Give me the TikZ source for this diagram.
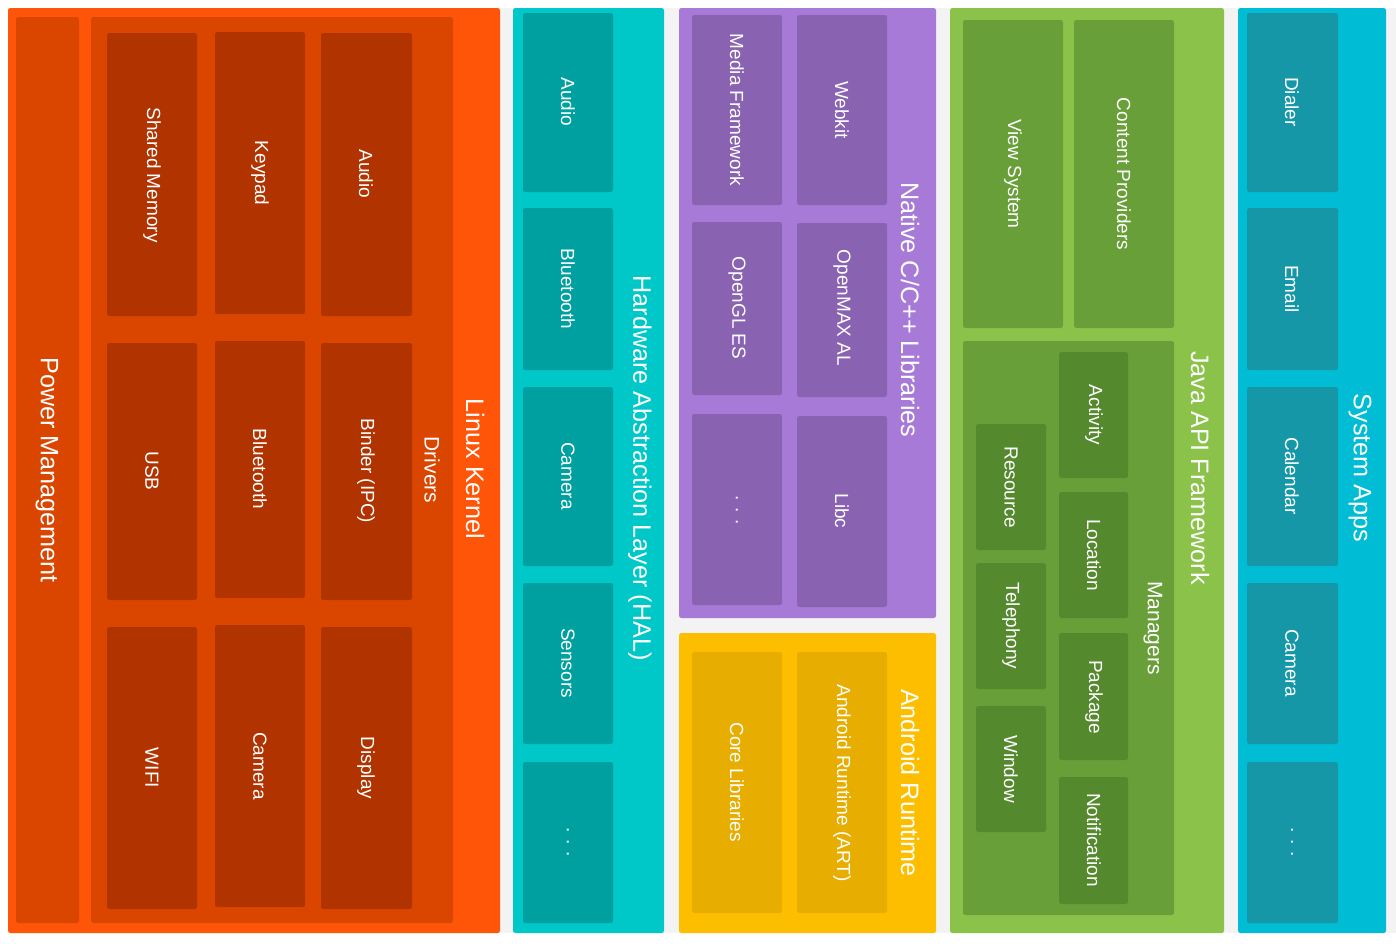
\documentclass[tikz,border=0pt]{standalone}
\usepackage{fontspec}
\setmainfont{Liberation Sans}
\usepackage{tikz}
\usetikzlibrary{positioning}
\definecolor{gapgray}{HTML}{F3F3F3}
\definecolor{kernelbg}{HTML}{FF5509}
\definecolor{kernelmid}{HTML}{DA4600}
\definecolor{kernelitem}{HTML}{B03300}
\definecolor{halbg}{HTML}{00C8C8}
\definecolor{halitem}{HTML}{00A0A0}
\definecolor{nativebg}{HTML}{A67AD6}
\definecolor{nativeitem}{HTML}{8962B2}
\definecolor{artbg}{HTML}{FDBE00}
\definecolor{artitem}{HTML}{E7AD00}
\definecolor{javabg}{HTML}{8BC34A}
\definecolor{javaitem}{HTML}{689F38}
\definecolor{mgritem}{HTML}{55892E}
\definecolor{appsbg}{HTML}{00BCD4}
\definecolor{appsitem}{HTML}{1697A8}
\tikzset{
  box/.style={rounded corners=1.2pt},
  lbl/.style={text=white, rotate=-90, inner sep=0pt, font=\fontsize{9.5}{11}\selectfont},
  sublbl/.style={lbl, font=\fontsize{10.5}{12}\selectfont},
  titlelbl/.style={lbl, font=\fontsize{12.6}{15}\selectfont}
}

\begin{document}
\begin{tikzpicture}[x=0.5pt,y=-0.5pt]
\useasboundingbox (0,0) rectangle (1396,943);
\fill[white] (0,0) rectangle (1396,943);
\fill[gapgray] (8,8) rectangle (1396,933);
% Linux Kernel
\fill[box,kernelbg] (8,8) rectangle (500,933);
\fill[box,kernelmid] (16,17) rectangle (79,923);
\fill[box,kernelmid] (91,17) rectangle (453,923);
\fill[box,kernelitem] (107,33) rectangle (197,316);
\fill[box,kernelitem] (215,32) rectangle (305,314);
\fill[box,kernelitem] (321,33) rectangle (412,316);
\fill[box,kernelitem] (107,343) rectangle (197,600);
\fill[box,kernelitem] (215,341) rectangle (305,598);
\fill[box,kernelitem] (321,343) rectangle (412,600);
\fill[box,kernelitem] (107,627) rectangle (197,909);
\fill[box,kernelitem] (215,625) rectangle (305,907);
\fill[box,kernelitem] (321,627) rectangle (412,909);
\node[titlelbl] (power) at (47,470) {Power Management};
\node[lbl] (shmem) at (152,175) {Shared Memory};
\node[lbl] (keypad) at (260,173) {Keypad};
\node[lbl] (kaudio) at (366,174) {Audio};
\node[lbl] (usb) at (152,471) {USB};
\node[lbl] (kbt) at (260,469) {Bluetooth};
\node[lbl] (binder) at (366,471) {Binder (IPC)};
\node[lbl] (wifi) at (152,768) {WIFI};
\node[lbl] (kcam) at (260,766) {Camera};
\node[lbl] (display) at (366,768) {Display};
\node[sublbl] (drivers) at (432,470) {Drivers};
\node[titlelbl] (kernel) at (475,469) {Linux Kernel};
% HAL
\fill[box,halbg] (513,8) rectangle (664,933);
\fill[box,halitem] (523,13) rectangle (613,192);
\fill[box,halitem] (523,208) rectangle (613,370);
\fill[box,halitem] (523,387) rectangle (613,566);
\fill[box,halitem] (523,583) rectangle (613,744);
\fill[box,halitem] (523,762) rectangle (613,923);
\node[lbl] (haudio) at (568,102) {Audio};
\node[lbl] (hbt) at (568,289) {Bluetooth};
\node[lbl] (hcam) at (568,476) {Camera};
\node[lbl] (sensors) at (568,663) {Sensors};
\node[lbl] (hmore) at (568,842) {. . .};
\node[titlelbl] (hal) at (640,468) {Hardware Abstraction Layer (HAL)};
% Native C/C++ Libraries
\fill[box,nativebg] (679,8) rectangle (936,618);
\fill[box,nativeitem] (692,15) rectangle (782,205);
\fill[box,nativeitem] (797,15) rectangle (887,205);
\fill[box,nativeitem] (692,222) rectangle (782,395);
\fill[box,nativeitem] (797,223) rectangle (887,397);
\fill[box,nativeitem] (692,414) rectangle (782,605);
\fill[box,nativeitem] (797,416) rectangle (887,607);
\node[lbl] (media) at (737,110) {Media Framework};
\node[lbl] (webkit) at (842,110) {Webkit};
\node[lbl] (opengl) at (737,308) {OpenGL ES};
\node[lbl] (openmax) at (842,308) {OpenMAX AL};
\node[lbl] (nmore) at (737,510) {. . .};
\node[lbl] (libc) at (842,511) {Libc};
\node[titlelbl] (native) at (910,310) {Native C/C++ Libraries};
% Android Runtime
\fill[box,artbg] (679,633) rectangle (936,933);
\fill[box,artitem] (692,652) rectangle (782,913);
\fill[box,artitem] (797,652) rectangle (887,913);
\node[lbl] (corelib) at (737,782) {Core Libraries};
\node[lbl] (art) at (842,783) {Android Runtime (ART)};
\node[titlelbl] (runtime) at (910,783) {Android Runtime};
% Java API Framework
\fill[box,javabg] (950,8) rectangle (1224,933);
\fill[box,javaitem] (963,20) rectangle (1063,328);
\fill[box,javaitem] (1074,20) rectangle (1174,328);
\fill[box,javaitem] (963,341) rectangle (1174,915);
\fill[box,mgritem] (976,424) rectangle (1046,550);
\fill[box,mgritem] (976,563) rectangle (1046,689);
\fill[box,mgritem] (976,706) rectangle (1046,832);
\fill[box,mgritem] (1059,352) rectangle (1128,478);
\fill[box,mgritem] (1059,492) rectangle (1128,618);
\fill[box,mgritem] (1059,633) rectangle (1128,760);
\fill[box,mgritem] (1059,777) rectangle (1128,904);
\node[lbl] (viewsys) at (1013,174) {View System};
\node[lbl] (content) at (1124,174) {Content Providers};
\node[lbl] (resource) at (1011,487) {Resource};
\node[lbl] (telephony) at (1011,626) {Telephony};
\node[lbl] (window) at (1011,769) {Window};
\node[lbl] (activity) at (1094,415) {Activity};
\node[lbl] (location) at (1094,555) {Location};
\node[lbl] (package) at (1094,697) {Package};
\node[lbl] (notify) at (1094,840) {Notification};
\node[sublbl] (managers) at (1153,628) {Managers};
\node[titlelbl] (java) at (1200,468) {Java API Framework};
% System Apps
\fill[box,appsbg] (1238,8) rectangle (1386,933);
\fill[box,appsitem] (1247,13) rectangle (1338,192);
\fill[box,appsitem] (1247,208) rectangle (1338,370);
\fill[box,appsitem] (1247,387) rectangle (1338,566);
\fill[box,appsitem] (1247,583) rectangle (1338,744);
\fill[box,appsitem] (1247,762) rectangle (1338,923);
\node[lbl] (dialer) at (1292,102) {Dialer};
\node[lbl] (email) at (1292,289) {Email};
\node[lbl] (calendar) at (1292,476) {Calendar};
\node[lbl] (acam) at (1292,663) {Camera};
\node[lbl] (amore) at (1292,842) {. . .};
\node[titlelbl] (apps) at (1360,468) {System Apps};
\end{tikzpicture}
\end{document}
